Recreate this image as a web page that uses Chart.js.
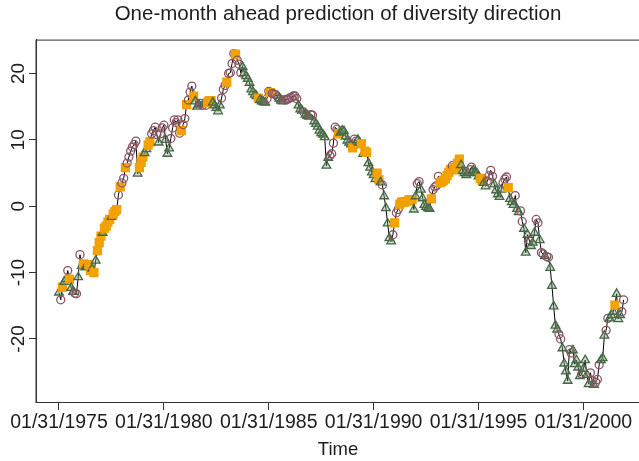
<!DOCTYPE html>
<html>
<head>
<meta charset="utf-8">
<script src="https://cdn.jsdelivr.net/npm/chart.js@4.4.0/dist/chart.umd.min.js"></script>
<style>
    html, body { margin: 0; padding: 0; background: #fff; overflow: hidden; }
    #wrap { width: 652px; height: 461px; }
</style>
</head>
<body>
<div id="wrap"><canvas id="chart_diversity" width="652" height="461"></canvas></div>
<script>
// Série mensal (fim de mês), jan/1975 a dez/2001
const startYear = 1975;
const tickYears = [1975, 1980, 1985, 1990, 1995, 2000];
const yTicks = [-20, -10, 0, 10, 20];

const diversity = [
    -13.0, -14.1, -12.2, -11.4, -11.0, -9.7, -11.0, -12.3, -12.9, -13.1, -13.2, -10.7, // 1975
    -7.3, -9.0, -8.7, -9.2, -9.0, -8.8, -9.7, -9.4, -10.0, -8.2, -6.7, -5.5,           // 1976
    -4.5, -4.0, -3.3, -3.0, -2.4, -2.0, -1.6, -1.2, -0.8, -0.5, 1.7, 2.9,              // 1977
    3.5, 4.2, 5.8, 6.5, 7.4, 8.3, 8.9, 9.3, 9.8, 4.9, 5.8, 6.6,                        // 1978
    7.4, 8.0, 8.6, 9.2, 9.7, 10.9, 11.4, 11.9, 10.8, 9.6, 10.9, 11.8,                  // 1979
    12.2, 10.0, 7.9, 8.7, 10.2, 11.8, 13.0, 12.6, 13.0, 11.0, 11.4, 12.3,              // 1980
    13.2, 15.3, 16.0, 17.2, 18.1, 16.6, 15.8, 15.0, 15.3, 15.5, 15.2, 15.5,            // 1981
    15.2, 15.6, 15.9, 15.9, 15.6, 15.2, 14.8, 14.3, 15.2, 16.3, 17.6, 18.2,            // 1982
    18.7, 20.0, 20.1, 21.5, 23.0, 22.9, 22.0, 21.4, 20.1, 21.0, 20.1, 19.6,            // 1983
    19.2, 18.6, 17.6, 17.2, 16.8, 16.6, 16.3, 16.0, 15.8, 15.7, 15.6, 16.2,            // 1984
    17.3, 17.1, 17.0, 16.9, 16.8, 16.5, 16.2, 15.9, 15.8, 16.0, 16.1, 16.1,            // 1985
    16.3, 16.4, 16.6, 16.6, 16.2, 15.2, 14.6, 14.4, 14.2, 13.8, 13.6, 13.5,            // 1986
    13.8, 13.7, 12.8, 12.4, 12.0, 11.4, 11.0, 10.8, 10.4, 6.1, 7.3, 7.6,               // 1987
    7.9, 9.5, 11.9, 11.6, 10.9, 11.1, 11.4, 11.3, 10.5, 9.9, 9.6, 9.3,                 // 1988
    8.8, 10.1, 9.8, 10.0, 9.6, 9.4, 7.9, 8.3, 8.1, 6.5, 5.8, 5.1,                      // 1989
    4.7, 4.1, 5.0, 4.0, 3.6, 3.2, 1.5, -0.3, -2.6, -4.8, -5.3, -4.3,                   // 1990
    -2.5, -1.0, -0.5, 0.3, 0.6, 0.6, 0.7, 0.7, 0.9, 1.0, 1.0, -0.5,                    // 1991
    1.5, 3.4, 3.7, 2.5, 1.2, 0.2, -0.1, -0.3, -0.4, 1.1, 2.5, 2.9,                     // 1992
    3.1, 4.5, 3.5, 3.7, 3.9, 4.1, 4.6, 5.1, 5.5, 6.1, 5.8, 5.5,                        // 1993
    6.5, 7.1, 6.2, 5.3, 5.0, 4.7, 5.0, 5.5, 5.9, 5.4, 5.1, 5.0,                        // 1994
    4.5, 4.2, 3.9, 3.5, 3.0, 3.8, 4.6, 5.4, 4.5, 3.3, 2.4, 1.8,                        // 1995
    1.4, 2.5, 3.5, 4.1, 4.4, 2.8, 1.1, 0.6, 0.2, 1.6, -0.4, -0.9,                      // 1996
    -0.7, -2.3, -3.4, -7.0, -4.3, -5.1, -6.0, -5.5, -4.0, -2.0, -2.5, -5.1,            // 1997
    -7.0, -7.2, -7.5, -7.6, -7.7, -9.3, -12.0, -15.1, -18.0, -18.6, -19.3, -20.0,      // 1998
    -21.4, -23.7, -24.9, -26.3, -21.6, -22.1, -21.7, -23.8, -23.2, -24.3, -25.6, -25.3, // 1999
    -24.5, -23.2, -25.4, -26.8, -25.1, -26.3, -26.9, -26.5, -26.1, -23.9, -23.2, -22.9, // 2000
    -19.5, -18.7, -16.9, -16.9, -16.4, -15.9, -14.9, -13.2, -17.0, -16.4, -15.9, -14.1  // 2001
];

// Classe prevista por mês: c = círculo, t = triângulo, s = quadrado
const predicted = [
    'tcsttcsttcct', 'ctsttsststss', 'stsssstssscs', 'ccscccccctss', 'sttsscccctcc',
    'ctttccccccsc', 'cscccstttcct', 'cssstttttccc', 'sccccscccttt', 'ttttttsttttc',
    'cscccctttccc', 'ccccctttcttt', 'cctttttttttc', 'ccccsttttttt', 'sccttstssttt',
    'ttsstctttttc', 'sccsssssssst', 'tccttttttscc', 'ccssssssscss', 'sstttttccttt',
    'tssttccccttt', 'ttcccstttctt', 'cctttctttcct', 'cctcctttttcc', 'ttttcctttttc',
    'ttttcctccctt', 'tcctttstttcc'
].join('');

const dayOffset = 30 / 365; // dia 31 de janeiro

const marker = {
    c: { style: 'circle', radius: 4, fill: 'rgba(255,255,255,0)', line: '#8a5563' },
    t: { style: 'triangle', radius: 5, fill: 'rgba(110,150,110,0.35)', line: '#466846' },
    s: { style: 'rect', radius: 5.6, fill: '#f5a300', line: '#f0a000' }
};

const points = diversity.map((v, i) => ({ x: startYear + i / 12 + dayOffset, y: v }));
const kinds = points.map((p, i) => marker[predicted[i]] || marker.c);

const fontFamily = '"Liberation Sans", Arial, Helvetica, sans-serif';
const textColor = '#1e1e1e';

const plotBox = { // caixa em volta da área do gráfico (estilo R)
    id: 'plotBox',
    afterDraw(chart) {
        const { ctx, chartArea: a } = chart;
        ctx.save();
        ctx.strokeStyle = '#333';
        ctx.lineWidth = 1;
        ctx.strokeRect(a.left, a.top + 0.5, a.width, a.height);
        ctx.restore();
    }
};

new Chart(document.getElementById('chart_diversity'), {
    type: 'line',
    data: {
        datasets: [{
            label: 'Diversity',
            data: points,
            borderColor: '#000',
            borderWidth: 1,
            tension: 0,
            pointStyle: kinds.map(k => k.style),
            pointRadius: kinds.map(k => k.radius),
            pointBackgroundColor: kinds.map(k => k.fill),
            pointBorderColor: kinds.map(k => k.line),
            pointBorderWidth: 1.3
        }]
    },
    options: {
        responsive: false,
        animation: false,
        layout: {
            padding: { left: 0, right: 12, top: 0, bottom: 0 }
        },
        scales: {
            x: {
                type: 'linear',
                min: 1973.986,
                max: 2002.78,
                afterBuildTicks: (scale) => {
                    scale.ticks = tickYears.map(y => ({ value: y + dayOffset }));
                },
                afterFit: (scale) => { scale.height = 59; },
                ticks: {
                    autoSkip: false,
                    maxRotation: 0,
                    padding: 1,
                    color: textColor,
                    font: { family: fontFamily, size: 19.5 },
                    callback: (v) => '01/31/' + Math.round(v - dayOffset)
                },
                grid: {
                    drawOnChartArea: false,
                    drawTicks: true,
                    tickLength: 8,
                    tickColor: '#333'
                },
                border: { display: true, color: '#333' },
                title: {
                    display: true,
                    text: 'Time',
                    color: textColor,
                    font: { family: fontFamily, size: 18.5 },
                    padding: { top: 2, bottom: 0 }
                }
            },
            y: {
                min: -29.5,
                max: 25.1,
                afterBuildTicks: (scale) => {
                    scale.ticks = yTicks.map(v => ({ value: v }));
                },
                afterFit: (scale) => { scale.width = 36; },
                ticks: {
                    minRotation: 90,
                    maxRotation: 90,
                    crossAlign: 'center',
                    padding: -3,
                    color: textColor,
                    font: { family: fontFamily, size: 19 }
                },
                grid: {
                    drawOnChartArea: false,
                    drawTicks: true,
                    tickLength: 7,
                    tickColor: '#333'
                },
                border: { display: true, color: '#333' }
            }
        },
        plugins: {
            legend: { display: false },
            tooltip: { enabled: false },
            title: {
                display: true,
                text: 'One-month ahead prediction of diversity direction',
                fullSize: false,
                color: textColor,
                font: { family: fontFamily, size: 20.5, weight: 'normal' },
                padding: { top: 2, bottom: 13 }
            }
        }
    },
    plugins: [plotBox]
});
</script>
</body>
</html>
